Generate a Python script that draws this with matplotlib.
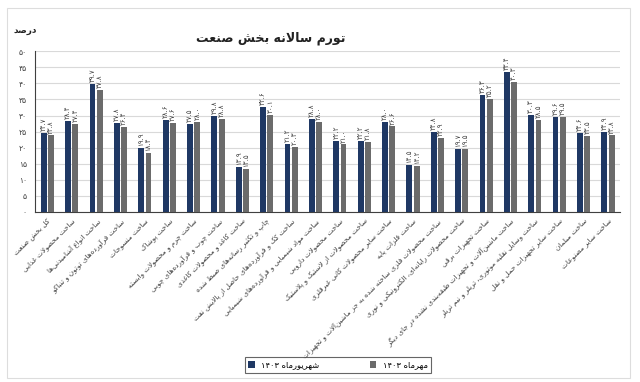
# Annual inflation of industry sub-sectors (Shahrivar vs Mehr 1403)
# Persian text is shaped by hand since matplotlib has no Arabic shaping

import re
import numpy as np
import matplotlib
matplotlib.use("Agg")
import matplotlib.pyplot as plt
from matplotlib.patches import Rectangle

categories = [
    "کل بخش صنعت",
    "ساخت محصولات غذایی",
    "ساخت انواع آشامیدنی‌ها",
    "ساخت فرآورده‌های توتون و تنباکو",
    "ساخت منسوجات",
    "ساخت پوشاک",
    "ساخت چرم و محصولات وابسته",
    "ساخت چوب و فرآورده‌های چوبی",
    "ساخت کاغذ و محصولات کاغذی",
    "چاپ و تکثیر رسانه‌های ضبط شده",
    "ساخت کک و فرآورده‌های حاصل از پالایش نفت",
    "ساخت مواد شیمیایی و فرآورده‌های شیمیایی",
    "ساخت محصولات دارویی",
    "ساخت محصولات از لاستیک و پلاستیک",
    "ساخت سایر محصولات کانی غیرفلزی",
    "ساخت فلزات پایه",
    "ساخت محصولات فلزی ساخته شده به جز ماشین‌آلات و تجهیزات",
    "ساخت محصولات رایانه‌ای، الکترونیکی و نوری",
    "ساخت تجهیزات برقی",
    "ساخت ماشین‌آلات و تجهیزات طبقه‌بندی نشده در جای دیگر",
    "ساخت وسایل نقلیه موتوری، تریلر و نیم تریلر",
    "ساخت سایر تجهیزات حمل و نقل",
    "ساخت مبلمان",
    "ساخت سایر مصنوعات",
]
shahrivar = [24.7, 28.4, 39.7, 27.8, 19.9, 28.6, 27.5, 29.8, 13.9, 32.6, 21.2, 28.8,
             22.2, 22.2, 28.0, 14.5, 24.8, 19.7, 36.3, 43.4, 30.3, 29.6, 24.6, 24.9]
mehr = [23.8, 27.4, 37.8, 26.4, 18.4, 27.6, 28.0, 28.8, 13.5, 30.1, 20.3, 28.0,
        21.0, 21.8, 26.6, 14.2, 22.9, 19.5, 35.2, 40.3, 28.5, 29.5, 23.5, 23.8]
series_names = ["شهریورماه ۱۴۰۳", "مهرماه ۱۴۰۳"]
yticks = [0, 5, 10, 15, 20, 25, 30, 35, 40, 45, 50]
title = "تورم سالانه بخش صنعت"
unit = "درصد"

# presentation forms: (isolated, final, initial, medial) or (isolated, final)
FORMS = {
    "ء": (0xFE80,), "آ": (0xFE81, 0xFE82), "أ": (0xFE83, 0xFE84), "ؤ": (0xFE85, 0xFE86),
    "إ": (0xFE87, 0xFE88), "ئ": (0xFE89, 0xFE8A, 0xFE8B, 0xFE8C), "ا": (0xFE8D, 0xFE8E),
    "ب": (0xFE8F, 0xFE90, 0xFE91, 0xFE92), "ة": (0xFE93, 0xFE94),
    "ت": (0xFE95, 0xFE96, 0xFE97, 0xFE98), "ث": (0xFE99, 0xFE9A, 0xFE9B, 0xFE9C),
    "ج": (0xFE9D, 0xFE9E, 0xFE9F, 0xFEA0), "ح": (0xFEA1, 0xFEA2, 0xFEA3, 0xFEA4),
    "خ": (0xFEA5, 0xFEA6, 0xFEA7, 0xFEA8), "د": (0xFEA9, 0xFEAA), "ذ": (0xFEAB, 0xFEAC),
    "ر": (0xFEAD, 0xFEAE), "ز": (0xFEAF, 0xFEB0),
    "س": (0xFEB1, 0xFEB2, 0xFEB3, 0xFEB4), "ش": (0xFEB5, 0xFEB6, 0xFEB7, 0xFEB8),
    "ص": (0xFEB9, 0xFEBA, 0xFEBB, 0xFEBC), "ض": (0xFEBD, 0xFEBE, 0xFEBF, 0xFEC0),
    "ط": (0xFEC1, 0xFEC2, 0xFEC3, 0xFEC4), "ظ": (0xFEC5, 0xFEC6, 0xFEC7, 0xFEC8),
    "ع": (0xFEC9, 0xFECA, 0xFECB, 0xFECC), "غ": (0xFECD, 0xFECE, 0xFECF, 0xFED0),
    "ف": (0xFED1, 0xFED2, 0xFED3, 0xFED4), "ق": (0xFED5, 0xFED6, 0xFED7, 0xFED8),
    "ك": (0xFED9, 0xFEDA, 0xFEDB, 0xFEDC), "ل": (0xFEDD, 0xFEDE, 0xFEDF, 0xFEE0),
    "م": (0xFEE1, 0xFEE2, 0xFEE3, 0xFEE4), "ن": (0xFEE5, 0xFEE6, 0xFEE7, 0xFEE8),
    "ه": (0xFEE9, 0xFEEA, 0xFEEB, 0xFEEC), "و": (0xFEED, 0xFEEE),
    "ى": (0xFEEF, 0xFEF0), "ي": (0xFEF1, 0xFEF2, 0xFEF3, 0xFEF4),
    "پ": (0xFB56, 0xFB57, 0xFB58, 0xFB59), "چ": (0xFB7A, 0xFB7B, 0xFB7C, 0xFB7D),
    "ژ": (0xFB8A, 0xFB8B), "ک": (0xFB8E, 0xFB8F, 0xFB90, 0xFB91),
    "گ": (0xFB92, 0xFB93, 0xFB94, 0xFB95), "ی": (0xFBFC, 0xFBFD, 0xFBFE, 0xFBFF),
}
LAM_ALEF = {"ا": (0xFEFB, 0xFEFC), "آ": (0xFEF5, 0xFEF6),
            "أ": (0xFEF7, 0xFEF8), "إ": (0xFEF9, 0xFEFA)}


def shape(text):
    def dual(c):
        return c in FORMS and len(FORMS[c]) == 4

    def joins(c):
        return c in FORMS and len(FORMS[c]) > 1

    out = []
    i, n = 0, len(text)
    while i < n:
        c = text[i]
        if c not in FORMS:
            out.append(c)
            i += 1
            continue
        link_prev = i > 0 and dual(text[i - 1])
        if c == "ل" and i + 1 < n and text[i + 1] in LAM_ALEF:
            out.append(chr(LAM_ALEF[text[i + 1]][1 if link_prev else 0]))
            i += 2
            continue
        f = FORMS[c]
        link_next = dual(c) and i + 1 < n and joins(text[i + 1])
        if len(f) == 1:
            g = f[0]
        elif link_prev and link_next:
            g = f[3]
        elif link_prev:
            g = f[1]
        elif link_next:
            g = f[2]
        else:
            g = f[0]
        out.append(chr(g))
        i += 1
    return "".join(out)


def fa(text):
    # shape, then lay out right-to-left keeping digit runs left-to-right
    s = shape(text).replace("\u200c", "")
    runs = re.findall(r"[۰-۹0-9.٫]+|[^۰-۹0-9.٫]+", s)
    return "".join(r if re.match(r"[۰-۹0-9.٫]", r) else r[::-1] for r in reversed(runs))


def fa_num(v):
    return str(v).translate(str.maketrans("0123456789", "۰۱۲۳۴۵۶۷۸۹"))


plt.rcParams["font.family"] = ["DejaVu Sans"]

blue = "#1f3864"
gray = "#6b6b6b"
txt = "#404040"

fig = plt.figure(figsize=(6.4, 3.82), dpi=100)
ax = fig.add_axes([0.055, 0.445, 0.914, 0.421])

x = np.arange(len(categories))
w = 0.24
b1 = ax.bar(x - 0.15, shahrivar, w, color=blue, label=fa(series_names[0]), zorder=3)
b2 = ax.bar(x + 0.15, mehr, w, color=gray, label=fa(series_names[1]), zorder=3)

for bars, vals in [(b1, shahrivar), (b2, mehr)]:
    for r, v in zip(bars, vals):
        ax.text(r.get_x() + r.get_width() / 2, v + 0.6, fa_num(v), rotation=90,
                ha="center", va="bottom", fontsize=5, color=txt)

ax.set_xlim(-0.5, len(categories) - 0.5)
ax.set_ylim(0, 50)
ax.set_yticks(yticks)
ax.set_yticklabels([fa_num(t) for t in yticks], fontsize=5.5, color=txt)
ax.set_xticks(x)
ax.set_xticklabels([fa(c) for c in categories], rotation=45, ha="right",
                   rotation_mode="anchor", fontsize=5.2, color=txt)
ax.tick_params(axis="both", length=0)
ax.tick_params(axis="y", pad=6)
ax.tick_params(axis="x", pad=4)
ax.grid(axis="y", color="#d9d9d9", linewidth=0.8, zorder=0)
for s in ["top", "right"]:
    ax.spines[s].set_visible(False)
ax.spines["left"].set_color("#404040")
ax.spines["bottom"].set_color("#404040")

fig.text(0.423, 0.90, fa(title), ha="center", va="center", fontsize=9,
         fontweight="bold", color="#222222")
fig.text(0.04, 0.92, fa(unit), ha="center", va="center", fontsize=6.5,
         fontweight="bold", color="#222222")

leg = fig.legend(loc="center", bbox_to_anchor=(0.528, 0.045), ncol=2, fontsize=6,
                 frameon=True, fancybox=False, edgecolor="#404040",
                 handlelength=0.8, handleheight=0.8, columnspacing=6,
                 borderpad=0.4)
leg.get_frame().set_linewidth(0.8)

fig.patches.append(Rectangle((0.011, 0.01), 0.973, 0.97, transform=fig.transFigure,
                             fill=False, edgecolor="#dddddd", linewidth=0.8))

fig.savefig("out.png", dpi=100)
